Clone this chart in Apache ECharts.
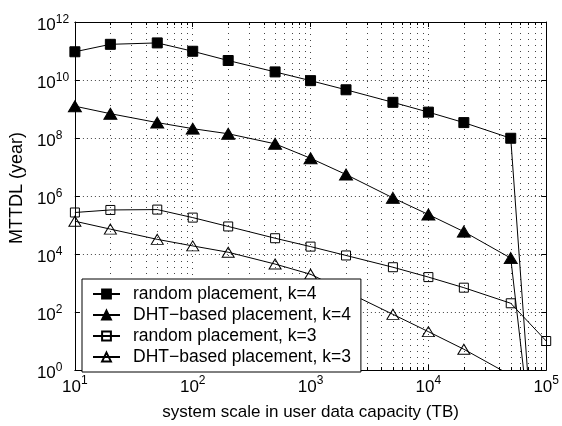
<!DOCTYPE html>
<html>
<head>
<meta charset="utf-8">
<script src="https://cdn.jsdelivr.net/npm/echarts@6/dist/echarts.min.js"></script>
<style>html,body{margin:0;padding:0;background:#fff}#c{width:562px;height:426px}</style>
</head>
<body>
<div id="c"></div>
<script>
// ---- data ----
const xValues   = [10, 20, 50, 100, 200, 500, 1000, 2000, 5000, 10000, 20000, 50000, 100000];
const randomK4  = [9.4e10, 1.7e11, 1.9e11, 9.8e10, 4.7e10, 1.9e10, 9.5e9, 4.6e9, 1.7e9, 7.8e8, 3.4e8, 9.8e7, 1e-9];
const dhtK4     = [1.25e9, 6.9e8, 3.4e8, 2.1e8, 1.4e8, 6.3e7, 2.0e7, 5.5e6, 8.6e5, 2.3e5, 5.9e4, 7.2e3, 1.6e-7];
const randomK3  = [2.7e5, 3.3e5, 3.4e5, 1.8e5, 8.9e4, 3.5e4, 1.8e4, 8.9e3, 3.5e3, 1.6e3, 6.9e2, 2.0e2, 10];
const dhtK3     = [1.35e5, 7.2e4, 3.2e4, 1.9e4, 1.15e4, 4.5e3, 2.0e3, 5.1e2, 83, 21, 5.2, 0.66, null];
const seriesNames = ['random placement, k=4', 'DHT\u2212based placement, k=4', 'random placement, k=3', 'DHT\u2212based placement, k=3'];
const minorXs = [20,30,40,50,60,70,80,90, 200,300,400,500,600,700,800,900, 2000,3000,4000,5000,6000,7000,8000,9000, 20000,30000,40000,50000,60000,70000,80000,90000];
const xMin = 10, xMax = 100000, yMin = 1, yMax = 1e12;
const xTitle = 'system scale in user data capacity (TB)';
const yTitle = 'MTTDL (year)';

const FONT = 'Liberation Sans, Arial, Helvetica, sans-serif';
function pairs(arr) { return xValues.map((x, i) => [x, arr[i]]).filter(p => p[1] != null); }
function powLabel(v) { const e = Math.round(Math.log10(v)); return '{b|10}{s|' + e + '}'; }
const richX = {
  b: { fontSize: 17, fontFamily: FONT, color: '#000', lineHeight: 17, padding: [8, 0, 0, 0] },
  s: { fontSize: 12, fontFamily: FONT, color: '#000', lineHeight: 12, verticalAlign: 'top' }
};
const richY = {
  b: { fontSize: 17, fontFamily: FONT, color: '#000', lineHeight: 17, padding: [7, 0, 0, 0] },
  s: { fontSize: 12, fontFamily: FONT, color: '#000', lineHeight: 12, verticalAlign: 'top' }
};

const chart = echarts.init(document.getElementById('c'), null, { renderer: 'canvas' });
const black = '#000';
function lineSeries(name, arr, symbol, size, filled) {
  return {
    name: name, type: 'line', data: pairs(arr), symbol: symbol, symbolSize: size,
    showAllSymbol: true, clip: true, z: 3,
    lineStyle: { color: black, width: 1 },
    itemStyle: filled ? { color: black, borderColor: black, borderWidth: 1 }
                      : { color: 'rgba(0,0,0,0)', borderColor: black, borderWidth: 1 },
    emphasis: { disabled: true }
  };
}
const option = {
  animation: false,
  backgroundColor: '#fff',
  grid: { left: 73, right: 13, top: 22, bottom: 53 },
  xAxis: [{
    type: 'log', logBase: 10, min: xMin, max: xMax, interval: 1,
    name: xTitle, nameLocation: 'middle', nameGap: 34,
    nameTextStyle: { fontSize: 17, fontFamily: FONT, color: black },
    axisLine: { show: true, onZero: false, lineStyle: { color: black, width: 1 } },
    axisTick: { show: true, inside: true, length: 5, lineStyle: { color: black } },
    axisLabel: { formatter: powLabel, rich: richX, margin: 5 },
    splitLine: { show: true, lineStyle: { color: '#444', width: 1, type: [1, 5] } }
  }, {
    type: 'log', logBase: 10, min: xMin, max: xMax, interval: 1, position: 'top',
    axisLine: { show: true, onZero: false, lineStyle: { color: black, width: 1 } },
    axisTick: { show: true, inside: true, length: 5, lineStyle: { color: black } },
    axisLabel: { show: false }, splitLine: { show: false }
  }],
  yAxis: [{
    type: 'log', logBase: 10, min: yMin, max: yMax, interval: 2,
    name: yTitle, nameLocation: 'middle', nameGap: 42,
    nameTextStyle: { fontSize: 18, fontFamily: FONT, color: black, padding: [0, 0, 0, 16] },
    axisLine: { show: true, onZero: false, lineStyle: { color: black, width: 1 } },
    axisTick: { show: true, inside: true, length: 5, lineStyle: { color: black } },
    axisLabel: { formatter: powLabel, rich: richY, margin: 38, align: 'left' },
    splitLine: { show: true, lineStyle: { color: '#444', width: 1, type: [1, 3] } }
  }, {
    type: 'log', logBase: 10, min: yMin, max: yMax, interval: 2, position: 'right',
    axisLine: { show: true, onZero: false, lineStyle: { color: black, width: 1 } },
    axisTick: { show: true, inside: true, length: 5, lineStyle: { color: black } },
    axisLabel: { show: false }, splitLine: { show: false }
  }],
  legend: {
    data: seriesNames, orient: 'vertical', left: 82, top: 279,
    backgroundColor: '#fff', borderColor: black, borderWidth: 1, borderRadius: 0,
    padding: [6, 10, 6, 10], itemGap: 3, itemWidth: 27, itemHeight: 11,
    textStyle: { fontSize: 17.5, fontFamily: FONT, color: black, lineHeight: 14, padding: [0, 0, 0, 8] },
    selectedMode: false, z: 10
  },
  series: [
    {
      type: 'custom', xAxisIndex: 0, yAxisIndex: 0, silent: true, z: 1, clip: false,
      data: minorXs.map(v => [v, yMin]),
      renderItem: function (params, api) {
        const v = api.value(0);
        const b = api.coord([v, yMin]);
        const t = api.coord([v, yMax]);
        const x = Math.round(b[0]) + 0.5;
        return {
          type: 'group', children: [
            { type: 'line', shape: { x1: x, y1: b[1], x2: x, y2: t[1] }, style: { stroke: '#444', lineWidth: 1, lineDash: [1, 5] } },
            { type: 'line', shape: { x1: x, y1: b[1], x2: x, y2: b[1] - 3 }, style: { stroke: black, lineWidth: 1 } },
            { type: 'line', shape: { x1: x, y1: t[1], x2: x, y2: t[1] + 3 }, style: { stroke: black, lineWidth: 1 } }
          ]
        };
      }
    },
    lineSeries(seriesNames[0], randomK4, 'rect', 10, true),
    lineSeries(seriesNames[1], dhtK4, 'triangle', [13, 11], true),
    lineSeries(seriesNames[2], randomK3, 'rect', 9, false),
    lineSeries(seriesNames[3], dhtK3, 'triangle', [12, 10], false)
  ]
};
chart.setOption(option);
</script>
</body>
</html>
